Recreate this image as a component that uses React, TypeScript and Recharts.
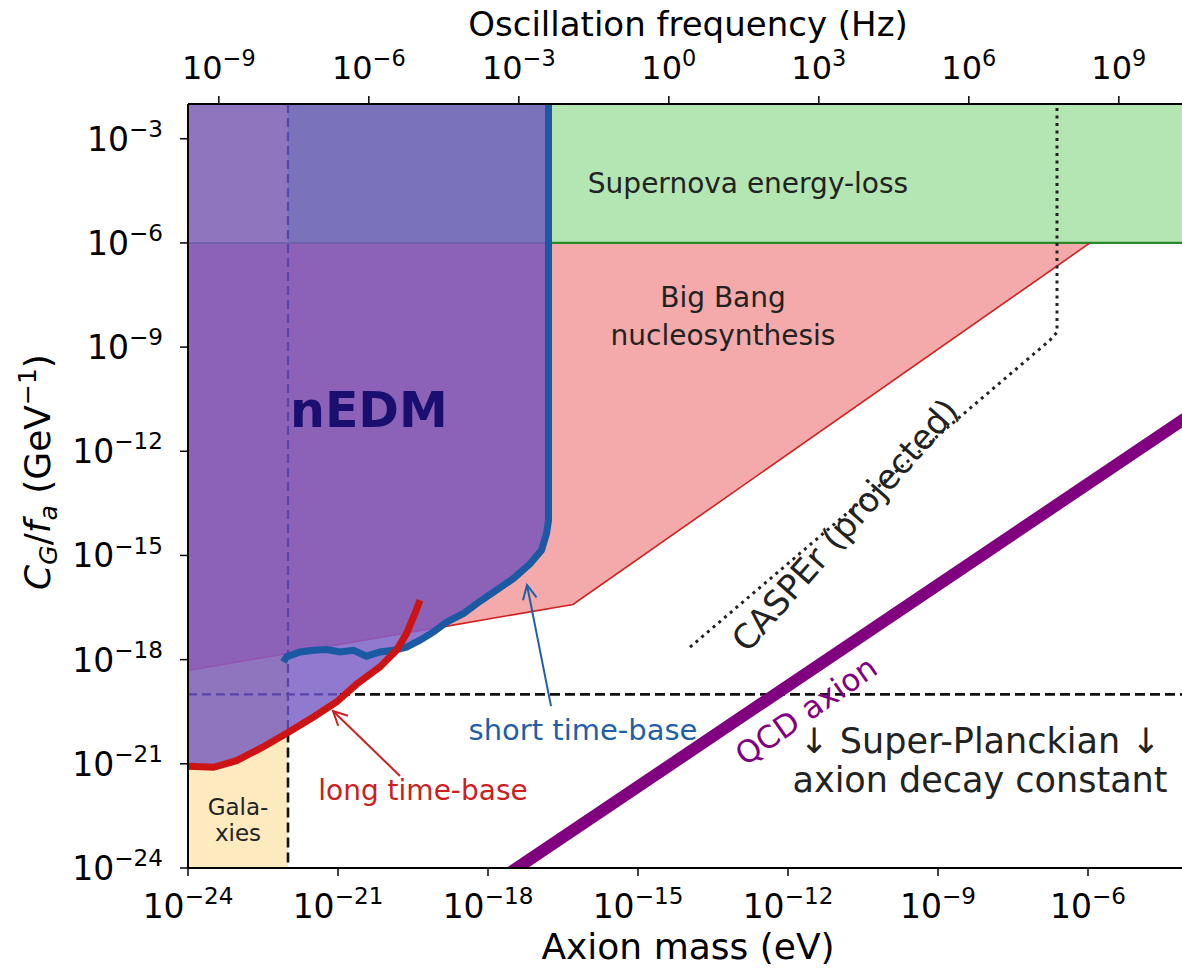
import { ComposedChart, XAxis, YAxis, Line, Area, Scatter } from "recharts";

// every value is log10 of the physical quantity
const MASS_MIN = -24;
const MASS_MAX = -4;
const COUPLING_MIN = -24;
const COUPLING_MAX = -2;
const HZ_PER_EV = 14.3834; // log10(e / h)

const massTicks = [-24, -21, -18, -15, -12, -9, -6];
const freqTicks = [-9, -6, -3, 0, 3, 6, 9];
const couplingTicks = [-24, -21, -18, -15, -12, -9, -6, -3];

// nEDM limits
const longBaseMass = [-24, -23.49, -23.03, -22.49, -22.0, -21.49, -21.03, -20.63, -20.16, -19.83, -19.63, -19.49, -19.36];
const longBaseCoupling = [-21.07, -21.1, -20.91, -20.51, -20.1, -19.65, -19.22, -18.71, -18.21, -17.73, -17.25, -16.77, -16.29];
const shortBaseMass = [-22.09, -22.03, -21.76, -21.49, -21.23, -20.96, -20.69, -20.43, -20.16, -19.89, -19.63, -19.36, -19.09, -18.83, -18.49, -18.16, -17.83, -17.49, -17.16, -16.93, -16.83, -16.79, -16.79];
const shortBaseCoupling = [-18.07, -17.92, -17.78, -17.73, -17.71, -17.78, -17.73, -17.9, -17.78, -17.73, -17.64, -17.44, -17.2, -16.92, -16.67, -16.32, -16.0, -15.66, -15.24, -14.85, -14.37, -13.99, -2];
const CROSSING_MASS = -19.83;

// other constraints
const bbnMass = [-24, -18.96, -16.3, -5.96];
const bbnCoupling = [-18.31, -17.07, -16.41, -6];
const supernovaMass = [-22, -4];
const SUPERNOVA_COUPLING = -6;
const GALAXY_MASS = -22;
const GALAXY_TOP = -20.1;
const PLANCK_COUPLING = -19;
const PLANCK_START = -20.96;
const casperMass = [-13.96, -6.76, -6.62, -6.62];
const casperCoupling = [-17.64, -8.8, -8.57, -2];
const qcdMass = [-17.75, -4];
const qcdCoupling = [-24.32, -11.0];

// annotation arrows
const blueArrowMass = [-16.74, -17.22];
const blueArrowCoupling = [-19.34, -15.85];
const blueHeadMass = [-17.03, -17.22, -17.3];
const blueHeadCoupling = [-16.21, -15.85, -16.29];
const redArrowMass = [-19.76, -21.1];
const redArrowCoupling = [-21.35, -19.48];
const redHeadMass = [-20.8, -21.1, -20.996];
const redHeadCoupling = [-19.615, -19.48, -19.905];

const labels = [
  { x: -12.8, y: -4.55, text: "Supernova energy-loss", kind: "region" },
  { x: -13.3, y: -7.85, text: "Big Bang\nnucleosynthesis", kind: "region" },
  { x: -21.96, y: -11.3, text: "nEDM", kind: "nedm" },
  { x: -10.86, y: -14.12, text: "CASPEr (projected)", kind: "casper" },
  { x: -11.64, y: -19.47, text: "QCD axion", kind: "qcd" },
  { x: -16.1, y: -20.31, text: "short time-base", kind: "short" },
  { x: -19.3, y: -22.04, text: "long time-base", kind: "long" },
  { x: -23.0, y: -22.47, text: "Gala-\nxies", kind: "galaxies" },
  { x: -8.16, y: -20.69, text: "↓ Super-Planckian ↓\naxion decay constant", kind: "planck" },
];

const FONT = "DejaVu Sans, Verdana, sans-serif";

const labelStyle: Record<string, any> = {
  region: { size: 28, color: "#222", anchor: "middle", gap: 38 },
  nedm: { size: 49, color: "#1a0f6e", anchor: "start", weight: "bold" },
  casper: { size: 34, color: "#222", anchor: "middle", rot: -48.6 },
  qcd: { size: 31, color: "#800080", anchor: "middle", rot: -35 },
  short: { size: 29, color: "#1f5fa8", anchor: "middle" },
  long: { size: 28, color: "#cc2020", anchor: "middle" },
  galaxies: { size: 23, color: "#222", anchor: "middle", gap: 26 },
  planck: { size: 35, color: "#222", anchor: "middle", gap: 39 },
};

const pts = (xs: number[], ys: number[]) => xs.map((x, i) => ({ x, y: ys[i] }));

const longBase = pts(longBaseMass, longBaseCoupling);
const shortBase = pts(shortBaseMass, shortBaseCoupling);
const bbn = pts(bbnMass, bbnCoupling);

const nedmEdge = [
  ...longBase.filter((p) => p.x <= CROSSING_MASS),
  ...shortBase.filter((p) => p.x > CROSSING_MASS && p.y < COUPLING_MAX),
];
const nedmArea = nedmEdge.map((p) => ({ x: p.x, range: [p.y, COUPLING_MAX] }));
const bbnArea = bbn.map((p) => ({ x: p.x, range: [p.y, SUPERNOVA_COUPLING] }));
const supernovaArea = supernovaMass.map((x) => ({ x, range: [SUPERNOVA_COUPLING, COUPLING_MAX] }));
const galaxyArea = [MASS_MIN, GALAXY_MASS].map((x) => ({ x, range: [COUPLING_MIN, COUPLING_MAX] }));

const sup = (v: number) => (v < 0 ? "\u2212" + Math.abs(v) : String(v));

function PowTick(props: any) {
  const { x, y, payload, dx, dy, anchor, size } = props;
  return (
    <text x={x + dx} y={y + dy} textAnchor={anchor} fontSize={size} fontFamily={FONT} fill="#000">
      10
      <tspan dy={-0.42 * size} fontSize={0.7 * size}>
        {sup(payload.value)}
      </tspan>
    </text>
  );
}

function LabelShape(props: any) {
  const { cx, cy, payload } = props;
  const s = labelStyle[payload.kind];
  const lines: string[] = payload.text.split("\n");
  return (
    <text
      x={cx}
      y={cy}
      textAnchor={s.anchor}
      fontSize={s.size}
      fontWeight={s.weight || "normal"}
      fontFamily={FONT}
      fill={s.color}
      dominantBaseline={s.rot ? "central" : undefined}
      transform={s.rot ? `rotate(${s.rot}, ${cx}, ${cy})` : undefined}
    >
      {lines.map((t, i) => (
        <tspan key={i} x={cx} dy={i === 0 ? 0 : s.gap}>
          {t}
        </tspan>
      ))}
    </text>
  );
}

const seg = (data: any[], stroke: string, width: number, dash?: string) => (
  <Line
    data={data}
    dataKey="y"
    type="linear"
    stroke={stroke}
    strokeWidth={width}
    strokeDasharray={dash}
    dot={false}
    activeDot={false}
    isAnimationActive={false}
  />
);

export default function App() {
  return (
    <div style={{ position: "absolute", left: 0, top: 0, width: 1182, height: 969, overflow: "hidden", background: "#fff" }}>
      <ComposedChart width={1190} height={969} margin={{ top: 0, right: 2, bottom: 0, left: 0 }}>
        <XAxis
          dataKey="x"
          type="number"
          domain={[MASS_MIN, MASS_MAX]}
          ticks={massTicks}
          interval={0}
          allowDataOverflow
          height={101}
          tickSize={8}
          axisLine={{ stroke: "#000", strokeWidth: 2 }}
          tickLine={{ stroke: "#000", strokeWidth: 1.5 }}
          tick={(p: any) => <PowTick {...p} dx={0} dy={40} anchor="middle" size={33} />}
          label={{
            content: (p: any) => (
              <text x={p.viewBox.x + p.viewBox.width / 2} y={p.viewBox.y + 91} textAnchor="middle" fontSize={36} fontFamily={FONT} fill="#000">
                Axion mass (eV)
              </text>
            ),
          }}
        />
        <XAxis
          xAxisId="top"
          orientation="top"
          dataKey="x"
          type="number"
          domain={[MASS_MIN + HZ_PER_EV, MASS_MAX + HZ_PER_EV]}
          ticks={freqTicks}
          interval={0}
          allowDataOverflow
          height={104}
          tickSize={8}
          axisLine={{ stroke: "#000", strokeWidth: 2 }}
          tickLine={{ stroke: "#000", strokeWidth: 1.5 }}
          tick={(p: any) => <PowTick {...p} dx={0} dy={-15} anchor="middle" size={32} />}
          label={{
            content: (p: any) => (
              <text x={p.viewBox.x + p.viewBox.width / 2} y={36} textAnchor="middle" fontSize={34} fontFamily={FONT} fill="#000">
                Oscillation frequency (Hz)
              </text>
            ),
          }}
        />
        <YAxis
          dataKey="y"
          type="number"
          domain={[COUPLING_MIN, COUPLING_MAX]}
          ticks={couplingTicks}
          interval={0}
          allowDataOverflow
          width={188}
          tickSize={8}
          axisLine={{ stroke: "#000", strokeWidth: 2 }}
          tickLine={{ stroke: "#000", strokeWidth: 1.5 }}
          tick={(p: any) => <PowTick {...p} dx={-15} dy={12} anchor="end" size={33} />}
          label={{
            content: () => (
              <text transform="translate(50, 472) rotate(-90)" textAnchor="middle" fontSize={36} fontFamily={FONT} fill="#000">
                <tspan fontStyle="italic">C</tspan>
                <tspan fontSize={25} dy={7} fontStyle="italic">G</tspan>
                <tspan dy={-7}>/</tspan>
                <tspan fontStyle="italic">f</tspan>
                <tspan fontSize={25} dy={7} fontStyle="italic">a</tspan>
                <tspan dy={-7}>{" (GeV"}</tspan>
                <tspan fontSize={25} dy={-14}>{"\u22121"}</tspan>
                <tspan dy={14}>)</tspan>
              </text>
            ),
          }}
        />

        {/* filled regions, back to front */}
        <Area data={galaxyArea} dataKey="range" type="linear" stroke="none" fill="#feeabf" fillOpacity={1} isAnimationActive={false} dot={false} activeDot={false} />
        <Area data={supernovaArea} dataKey="range" type="linear" stroke="none" fill="#b3e6b3" fillOpacity={1} isAnimationActive={false} dot={false} activeDot={false} />
        <Area data={bbnArea} dataKey="range" type="linear" stroke="none" fill="#f4aaaa" fillOpacity={1} isAnimationActive={false} dot={false} activeDot={false} />
        <Area data={nedmArea} dataKey="range" type="linear" stroke="none" fill="#6446be" fillOpacity={0.72} isAnimationActive={false} dot={false} activeDot={false} />

        {/* region edges */}
        {seg(pts([MASS_MIN, shortBaseMass[shortBaseMass.length - 1]], [SUPERNOVA_COUPLING, SUPERNOVA_COUPLING]), "#6a5ea6", 1.5)}
        {seg(pts([shortBaseMass[shortBaseMass.length - 1], supernovaMass[1]], [SUPERNOVA_COUPLING, SUPERNOVA_COUPLING]), "#2a8a2a", 2.2)}
        {seg(bbn.slice(0, 2), "#9455b0", 1.5)}
        {seg(bbn.slice(1), "#cc2222", 1.6)}

        {/* Planck and galaxy bounds */}
        {seg(pts([MASS_MIN, PLANCK_START], [PLANCK_COUPLING, PLANCK_COUPLING]), "#5a44a8", 2.2, "9 5")}
        {seg(pts([PLANCK_START, MASS_MAX], [PLANCK_COUPLING, PLANCK_COUPLING]), "#111", 2.6, "10 5")}
        {seg(pts([GALAXY_MASS, GALAXY_MASS], [COUPLING_MAX, GALAXY_TOP]), "#5a44a8", 2.2, "9 5")}
        {seg(pts([GALAXY_MASS, GALAXY_MASS], [GALAXY_TOP, COUPLING_MIN]), "#111", 2.6, "10 5")}

        {/* CASPEr and QCD axion */}
        {seg(pts(casperMass, casperCoupling), "#222", 3, "3 4.5")}
        {seg(pts(qcdMass, qcdCoupling), "#800080", 12)}

        {/* nEDM measurements */}
        {seg(shortBase, "#1a5aa2", 7)}
        {seg(longBase, "#cc1414", 7)}

        {/* arrows */}
        {seg(pts(blueArrowMass, blueArrowCoupling), "#1f5fa8", 2)}
        {seg(pts(blueHeadMass, blueHeadCoupling), "#1f5fa8", 2)}
        {seg(pts(redArrowMass, redArrowCoupling), "#cc2020", 2)}
        {seg(pts(redHeadMass, redHeadCoupling), "#cc2020", 2)}

        <Scatter data={labels} dataKey="y" shape={(p: any) => <LabelShape {...p} />} isAnimationActive={false} />
      </ComposedChart>
    </div>
  );
}
